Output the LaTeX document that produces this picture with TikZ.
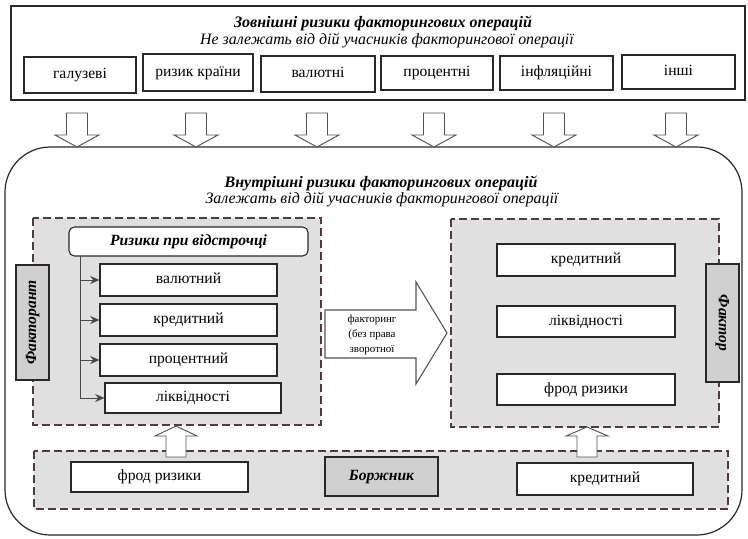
\documentclass[tikz,border=0pt]{standalone}
\usepackage{fontspec}
\setmainfont{Liberation Serif}
\usetikzlibrary{arrows.meta}
\definecolor{dashc}{RGB}{80,60,60}
\definecolor{lshade}{RGB}{224,224,224}
\definecolor{dshade}{RGB}{208,208,208}
\definecolor{linec}{RGB}{40,40,40}
\tikzset{
  wbox/.style={draw=linec, line width=0.8pt, fill=white, inner sep=0pt, align=center,
    text height=1.45ex, text depth=0.3ex,
    font=\fontsize{11.7}{13.5}\selectfont},
  gbox/.style={wbox, fill=dshade, font=\fontsize{11.7}{13.5}\selectfont\bfseries\itshape},
  rbox/.style={wbox, rounded corners=4pt, font=\fontsize{11.7}{13.5}\selectfont\bfseries\itshape},
  dbox/.style={draw=dashc, line width=0.8pt, dash pattern=on 6pt off 3pt, fill=lshade},
  blockarrow/.style={draw=linec!80, line width=0.7pt, fill=white},
  titlebf/.style={font=\fontsize{12}{14}\selectfont\bfseries\itshape, inner sep=0pt},
  titleit/.style={font=\fontsize{11.9}{14}\selectfont\itshape, inner sep=0pt},
  spinearrow/.style={draw=linec!85, line width=0.7pt, -{Stealth[length=7pt,width=6pt]}},
}
\newcommand{\bx}[7][wbox]{\node[#1, minimum width={(#5-#3)*0.75pt}, minimum height={(#6-#4)*0.75pt}] (#2) at ({(#3+#5)/2},{(#4+#6)/2}) {#7};}
\newcommand{\blockarr}[4]{\draw[blockarrow] (#1-10.5,#2) -- (#1+10.5,#2) -- (#1+10.5,#3) -- (#1+22,#3) -- (#1,#4) -- (#1-22,#3) -- (#1-10.5,#3) -- cycle;}
\begin{document}
\begin{tikzpicture}[x=0.75pt,y=-0.75pt]
\useasboundingbox (0,0) rectangle (748,538);
\fill[white] (0,0) rectangle (748,538);

% external risks
\node[draw=linec, line width=0.8pt, minimum width={734*0.75pt}, minimum height={94*0.75pt}] (ext) at (378,53) {};
\node[titlebf] (exttitle) at (383,23) {Зовнішні ризики факторингових операцій};
\node[titleit] (extsub) at (387,41) {Не залежать від дій учасників факторингової операції};
\bx{e1}{24}{57}{136}{93}{галузеві}
\bx{e2}{143}{54}{253}{91}{ризик країни}
\bx{e3}{261}{56}{375}{92}{валютні}
\bx{e4}{381}{56}{493}{90}{процентні}
\bx{e5}{500}{56}{613}{90}{інфляційні}
\bx{e6}{622}{55}{735}{89}{інші}

% internal risks frame
\draw[draw=linec, line width=0.9pt, rounded corners=34pt] (5,147) rectangle (742,535);
\blockarr{77}{113}{135}{147}
\blockarr{196}{113}{135}{147}
\blockarr{317}{113}{135}{147}
\blockarr{434}{113}{135}{147}
\blockarr{554}{113}{135}{147}
\blockarr{676}{113}{135}{147}

\node[titlebf] (inttitle) at (381,183) {Внутрішні ризики факторингових операцій};
\node[titleit] (intsub) at (382,200) {Залежать від дій учасників факторингової операції};

% left block
\draw[dbox] (33,218) rectangle (321,425);
\bx[rbox]{defer}{69}{227}{308}{256}{Ризики при відстрочці}
\bx{l1}{100}{264}{277}{296}{валютний}
\bx{l2}{100}{304}{277}{336}{кредитний}
\bx{l3}{100}{344}{277}{376}{процентний}
\bx{l4}{105}{383}{281}{413}{ліквідності}
\coordinate (spine) at (80,256);
\draw[draw=linec!85, line width=0.7pt] (spine) -- (spine |- l4.west);
\foreach \b in {l1,l2,l3,l4} \draw[spinearrow] (spine |- \b.west) -- (\b.west);
\node[gbox, rotate=90, minimum width={115*0.75pt}, minimum height={33*0.75pt}] (client) at (32.5,322.5) {Факторант};

% central arrow
\draw[blockarrow, line width=0.8pt] (325,310) -- (416,310) -- (416,282) -- (447,333) -- (416,384) -- (416,358) -- (325,358) -- cycle;
\node[font=\fontsize{8.2}{11.5}\selectfont, align=center, inner sep=0pt] (factlabel) at (372,335) {факторинг\\(без права\\зворотної};

% right block
\draw[dbox] (451,219) rectangle (719,427);
\bx{r1}{497}{244}{675}{276}{кредитний}
\bx{r2}{497}{306}{675}{337}{ліквідності}
\bx{r3}{497}{374}{675}{405}{фрод ризики}
\node[gbox, rotate=-90, minimum width={118*0.75pt}, minimum height={33*0.75pt}] (factor) at (722.5,323) {Фактор};

% debtor block
\draw[dbox] (34,451) rectangle (728,509);
\bx{b1}{71}{462}{248}{492}{фрод ризики}
\bx[gbox]{debtor}{325}{457}{438}{496}{Боржник}
\bx{b2}{517}{463}{693}{495}{кредитний}
\draw[blockarrow] (176-10,457) -- (176+10,457) -- (176+10,436) -- (176+21,436) -- (176,426) -- (176-21,436) -- (176-10,436) -- cycle;
\draw[blockarrow] (587-10,457) -- (587+10,457) -- (587+10,436) -- (587+21,436) -- (587,427) -- (587-21,436) -- (587-10,436) -- cycle;
\end{tikzpicture}
\end{document}
